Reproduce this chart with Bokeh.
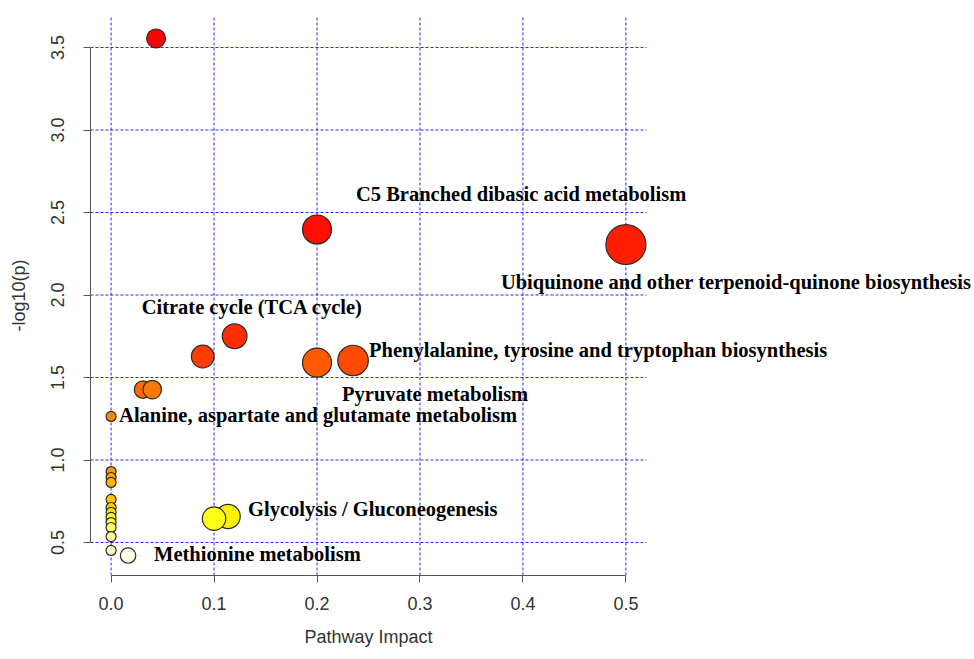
import colorsys
import numpy as np
from bokeh.plotting import figure
from bokeh.models import Range1d, Label, Title, FixedTicker, PrintfTickFormatter, ColumnDataSource
from bokeh.embed import file_html
from bokeh.resources import INLINE

# ---- data ----
impact = [0.0437, 0.2, 0.5, 0.12, 0.089, 0.235, 0.2, 0.031, 0.040, 0.0,
          0.0, 0.0, 0.0, 0.0, 0.0, 0.0, 0.1136, 0.0, 0.1, 0.0,
          0.0, 0.0, 0.0, 0.0165]
neg_log_p = [3.555, 2.397, 2.306, 1.75, 1.627, 1.603, 1.59, 1.427, 1.427, 1.264,
             0.930, 0.894, 0.864, 0.761, 0.712, 0.682, 0.658, 0.652, 0.645, 0.621,
             0.591, 0.536, 0.452, 0.421]

label_names = ["C5 Branched dibasic acid metabolism",
               "Ubiquinone and other terpenoid-quinone biosynthesis",
               "Citrate cycle (TCA cycle)",
               "Phenylalanine, tyrosine and tryptophan biosynthesis",
               "Pyruvate metabolism",
               "Alanine, aspartate and glutamate metabolism",
               "Glycolysis / Gluconeogenesis",
               "Methionine metabolism"]
label_point = [1, 2, 3, 5, 6, 9, 16, 23]

x_ticks = [0.0, 0.1, 0.2, 0.3, 0.4, 0.5]
y_ticks = [0.5, 1.0, 1.5, 2.0, 2.5, 3.0, 3.5]
x_title = "Pathway Impact"
y_title = "-log10(p)"

# ---- layout / style ----
label_offsets = [(39, 36), (-125, -37), (-93, 29), (16, 11), (25, -31),
                 (8, 1), (20, 7), (26, 2)]
x_lo, x_hi = -0.02, 0.52          # R plot region (data range + 4 %)
y_lo, y_hi = 0.3, 3.694
FIG_W, FIG_H = 974, 659
LEFT, TOP = 90, 15
BOTTOM = FIG_H - TOP - 560
REGION_W = 556
px_per_x = REGION_W / (x_hi - x_lo)
x_view_hi = x_lo + (FIG_W - LEFT) / px_per_x   # frame extends right so labels are not clipped


def heat_colors(n):
    j = n // 4
    i = n - j
    cols = []
    for k in range(i):
        h = (k / (i - 1)) * (1 / 6) if i > 1 else 0
        cols.append(colorsys.hsv_to_rgb(h, 1, 1))
    if j > 0:
        for s in np.linspace(1 - 1 / (2 * j), 1 / (2 * j), j):
            cols.append(colorsys.hsv_to_rgb(1 / 6, s, 1))
    return ["#%02x%02x%02x" % (round(r * 255), round(g * 255), round(b * 255)) for r, g, b in cols]


n = len(impact)
order = np.argsort(-np.array(neg_log_p), kind="stable")
pal = heat_colors(n)
colors = [None] * n
for rank, idx in enumerate(order):
    colors[idx] = pal[rank]
sizes = [2 * (5 + 21.2 * np.sqrt(v)) for v in impact]

src = ColumnDataSource(dict(x=impact, y=neg_log_p, c=colors, s=sizes))

p = figure(width=FIG_W, height=FIG_H, output_backend="svg", toolbar_location=None,
           x_range=Range1d(x_lo, x_view_hi), y_range=Range1d(y_lo, y_hi),
           min_border_left=LEFT, min_border_right=0, min_border_top=TOP, min_border_bottom=BOTTOM)
p.outline_line_color = None
p.background_fill_color = "white"
p.xgrid.visible = False
p.ygrid.visible = False

for ax, ticks in ((p.xaxis[0], x_ticks), (p.yaxis[0], y_ticks)):
    ax.ticker = FixedTicker(ticks=ticks)
    ax.formatter = PrintfTickFormatter(format="%.1f")
    ax.bounds = (ticks[0], ticks[-1])
    ax.minor_tick_line_color = None
    ax.major_tick_in = 0
    ax.major_tick_out = 7
    ax.axis_line_color = "#555555"
    ax.major_tick_line_color = "#555555"
    ax.major_label_text_font = "Liberation Sans"
    ax.major_label_text_font_size = "18px"
    ax.major_label_text_color = "#333333"
    ax.axis_label_text_font = "Liberation Sans"
    ax.axis_label_text_font_size = "18px"
    ax.axis_label_text_font_style = "normal"
    ax.axis_label_text_color = "#333333"

p.yaxis.axis_label = y_title
p.yaxis.major_label_orientation = "vertical"
p.xaxis.major_label_standoff = 14
p.yaxis.major_label_standoff = 19
p.yaxis.axis_label_standoff = 20

# x-axis title centred under the R plot region (not under the widened frame)
p.add_layout(Title(text=x_title, align="left", offset=REGION_W / 2 - 64, standoff=24,
                   text_font="Liberation Sans", text_font_size="18px", text_font_style="normal",
                   text_color="#333333"), "below")

# dotted blue grid limited to the R plot region
p.segment(x0=x_ticks, x1=x_ticks, y0=[y_lo] * len(x_ticks), y1=[y_hi] * len(x_ticks),
          line_color="#0000ff", line_dash="3 2", line_width=1, line_alpha=0.85)
p.segment(x0=[x_lo] * len(y_ticks), x1=[x_hi] * len(y_ticks), y0=y_ticks, y1=y_ticks,
          line_color="#0000ff", line_dash="3 2", line_width=1, line_alpha=0.85)

p.scatter("x", "y", source=src, size="s", fill_color="c", line_color="#2a2a2a", line_width=1.2)

for name, idx, (dx, dy) in zip(label_names, label_point, label_offsets):
    p.add_layout(Label(x=impact[idx], y=neg_log_p[idx], x_offset=dx, y_offset=dy, text=name,
                       text_font="Liberation Serif", text_font_style="bold",
                       text_font_size="20.5px", text_color="black",
                       text_align="left", text_baseline="middle"))

open("out.html", "w").write(file_html(p, INLINE))
